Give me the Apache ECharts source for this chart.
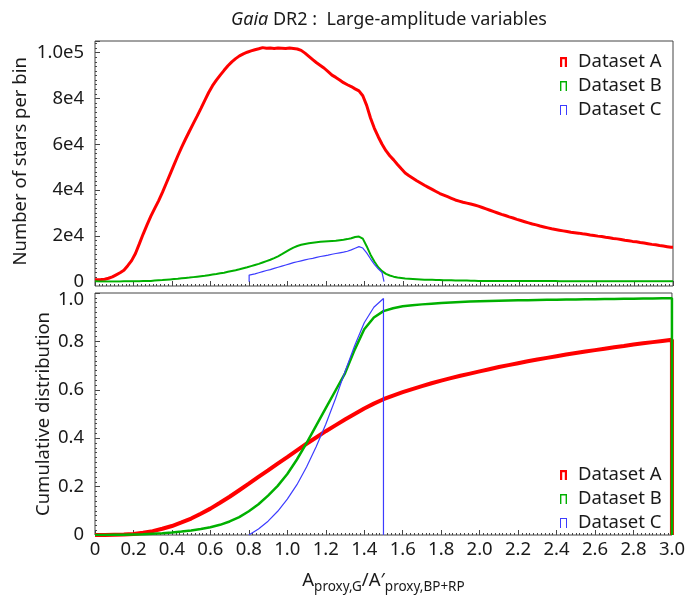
<!DOCTYPE html>
<html>
<head>
<meta charset="utf-8">
<script src="https://cdn.jsdelivr.net/npm/echarts@6/dist/echarts.min.js"></script>
<style>
html,body{margin:0;padding:0;background:#fff;}
#chart{width:688px;height:595px;}
</style>
</head>
<body>
<div id="chart"></div>
<script>
// ---------------- DATA ----------------
const seriesNames = ['Dataset A', 'Dataset B', 'Dataset C'];
const xTickLabels = ['0','0.2','0.4','0.6','0.8','1.0','1.2','1.4','1.6','1.8','2.0','2.2','2.4','2.6','2.8','3.0'];
const histYTickLabels = ['0','2e4','4e4','6e4','8e4','1.0e5'];

// Histograms: bin width 0.02
const histBinWidth = 0.02;
const histStartA = 0.0;
const histA = [
  900,1000,1100,1500,2100,3000,3900,5000,7000,9200,
  12300,16500,20800,24800,28600,32000,35300,39000,43000,47000,
  51000,55000,58800,62300,65700,69000,72300,75700,79200,82600,
  85600,88000,90200,92300,94300,96000,97400,98600,99500,100200,
  100800,101300,101700,102200,101900,102000,101800,102000,101900,101800,
  102000,101800,101600,101000,99800,98400,97000,95600,94400,93200,
  91700,90200,89200,88100,86900,86000,85200,84200,83300,81200,
  77000,71500,67000,63300,60000,57200,55000,53200,51200,49300,
  47500,46300,45200,44100,43100,42100,41200,40300,39400,38500,
  37800,37100,36400,35700,35200,34700,34300,33900,33500,33000,
  32400,31800,31200,30600,30000,29400,28900,28300,27800,27200,
  26700,26200,25700,25200,24800,24300,23900,23500,23100,22800,
  22500,22200,21900,21600,21400,21200,20900,20700,20400,20200,
  19900,19700,19400,19200,18900,18700,18400,18100,17900,17600,
  17400,17100,16900,16600,16300,16100,15800,15600,15300,15000
];
const histStartB = 0.0;
const histB = [
  200,100,100,100,100,100,100,150,150,200,
  200,250,300,300,350,500,600,700,850,1000,
  1150,1300,1500,1650,1800,2000,2200,2400,2600,2850,
  3100,3350,3650,3950,4300,4650,5000,5400,5850,6300,
  6800,7300,7800,8400,9000,9600,10300,11100,12000,13000,
  14000,14900,15600,16100,16500,16800,17000,17200,17400,17600,
  17700,17800,17900,18100,18300,18600,19000,19500,19700,18800,
  15500,11800,8800,6300,4600,3400,2700,2200,1800,1600,
  1400,1300,1200,1100,1000,900,850,800,750,700,
  650,600,600,550,550,500,500,450,400,300,
  300,300,300,300,300,300,300,300,300,300,
  300,300,300,300,300,300,300,300,300,300,
  250,250,250,250,250,250,250,250,250,250,
  250,250,250,250,250,250,250,250,250,250,
  250,250,250,250,250,250,250,250,250,250
];
const histStartC = 0.8;
const histC = [
  2900,3400,3900,4400,4900,5300,5800,6300,6800,7300,
  7800,8300,8700,9100,9500,9900,10200,10600,11000,11300,
  11600,12000,12300,12600,12900,13300,13900,14600,15300,14700,
  12600,10000,7600,5600,4000
];

// Cumulative distributions: sampled every 0.05
const cumStep = 0.05;
const cumStartA = 0.0;
const cumA = [
  0.000,0.000,0.001,0.002,0.004,0.009,0.016,0.026,0.037,0.052,
  0.068,0.088,0.109,0.133,0.158,0.185,0.212,0.240,0.267,0.295,
  0.322,0.350,0.377,0.403,0.429,0.453,0.477,0.500,0.523,0.543,
  0.561,0.576,0.590,0.603,0.615,0.627,0.638,0.648,0.658,0.667,
  0.676,0.685,0.694,0.702,0.710,0.718,0.725,0.732,0.739,0.746,
  0.752,0.758,0.764,0.770,0.776,0.781,0.787,0.792,0.797,0.802,
  0.807
];
const cumStartB = 0.0;
const cumB = [
  0.000,0.000,0.001,0.001,0.002,0.003,0.005,0.007,0.010,0.014,
  0.019,0.025,0.032,0.042,0.056,0.074,0.098,0.127,0.163,0.203,
  0.252,0.312,0.380,0.452,0.524,0.596,0.668,0.765,0.850,0.899,
  0.925,0.937,0.945,0.949,0.953,0.956,0.959,0.961,0.963,0.965,
  0.966,0.967,0.968,0.969,0.970,0.970,0.971,0.972,0.972,0.973,
  0.973,0.974,0.974,0.975,0.975,0.976,0.976,0.977,0.977,0.978,
  0.978
];
const cumStartC = 0.8;
const cumC = [0.000,0.025,0.057,0.098,0.148,0.208,0.281,0.365,0.458,0.562,0.675,0.782,0.877,0.941,0.977];

// ---------------- BUILD ----------------
const r3 = v => Math.round(v * 10000) / 10000;
// histogram outline: left edge, bin centres, right edge (optionally dropping to zero at both ends)
function histPoints(start, w, vals, closeBoth) {
  const d = [];
  if (closeBoth) d.push([r3(start), 0]);
  d.push([r3(start), vals[0]]);
  vals.forEach((v, i) => d.push([r3(start + (i + 0.5) * w), v]));
  const end = r3(start + vals.length * w);
  d.push([end, vals[vals.length - 1]]);
  if (closeBoth) d.push([end, 0]);
  return d;
}
function cumPoints(start, w, vals) {
  const d = vals.map((v, i) => [r3(start + i * w), v]);
  d.push([r3(start + (vals.length - 1) * w), 0]);
  return d;
}

const colors = ['#ff0000', '#00b000', '#3c3cff'];
const FONT = 'Noto Sans';
const TXT = '#1a1a1a';
const AX = '#444';
const FS = 18.5;

const icons = [
  'path://M0,10V0H7V10H4.8V2.2H2.2V10Z',
  'path://M0,10V0H7V10H5.6V1.4H1.4V10Z',
  'path://M0,10V0H7V10H6V1H1V10Z'
];
function legendData() {
  return seriesNames.map((n, i) => ({ name: n, icon: icons[i] }));
}

const xFmt = v => (Math.abs(v) < 1e-9 ? '0' : v.toFixed(1));
const yHistFmt = v => {
  const idx = Math.round(v / 20000);
  return histYTickLabels[idx] !== undefined ? histYTickLabels[idx] : '';
};
const yCumFmt = v => {
  if (Math.abs(v) < 1e-9) return '0';
  if (Math.abs(v - 1) < 1e-9) return '{t|1.0}';
  return v.toFixed(1);
};

const tickCommon = {
  axisLine: { show: false },
  axisTick: { show: true, inside: true, length: 5, lineStyle: { color: AX, width: 1 } },
  minorTick: { show: true, splitNumber: 10, length: 2, lineStyle: { color: AX, width: 1 } },
  splitLine: { show: false },
  minorSplitLine: { show: false }
};

const legendCommon = {
  orient: 'vertical', left: 555,
  itemWidth: 7, itemHeight: 10, itemGap: 0, selectedMode: false,
  textStyle: { fontFamily: FONT, fontSize: FS, color: TXT, lineHeight: 24, padding: [0, 0, 0, 6] }
};

const option = {
  backgroundColor: '#fff',
  animation: false,
  textStyle: { fontFamily: FONT },
  title: {
    text: '{i|Gaia} DR2 :  Large-amplitude variables',
    left: 384, top: 6, textAlign: 'center',
    textStyle: {
      fontFamily: FONT, fontSize: 18, fontWeight: 'normal', color: TXT,
      rich: { i: { fontFamily: FONT, fontSize: 18, fontStyle: 'italic', color: TXT } }
    }
  },
  legend: [
    Object.assign({ data: legendData(), top: 45 }, legendCommon),
    Object.assign({ data: legendData(), top: 458 }, legendCommon)
  ],
  grid: [
    { left: 95, top: 41, width: 578, height: 245, show: true, borderColor: AX, borderWidth: 1, backgroundColor: 'transparent' },
    { left: 95, top: 41, width: 578, height: 240.7 },
    { left: 95, top: 293, width: 578, height: 245.5, show: true, borderColor: AX, borderWidth: 1, backgroundColor: 'transparent' }
  ],
  xAxis: [
    Object.assign({ gridIndex: 0, type: 'value', min: 0, max: 3, interval: 0.2, axisLabel: { show: false } }, tickCommon),
    { gridIndex: 1, type: 'value', min: 0, max: 3, show: false },
    Object.assign({
      gridIndex: 2, type: 'value', min: 0, max: 3, interval: 0.2,
      axisLabel: { formatter: xFmt, fontFamily: FONT, fontSize: FS, color: TXT, margin: 5 },
      name: '{m|A}{s|proxy,G}{m|/A\u2032}{s|proxy,BP+RP}',
      nameLocation: 'middle', nameGap: 37,
      nameTextStyle: {
        fontFamily: FONT, color: TXT,
        rich: {
          m: { fontFamily: FONT, fontSize: FS, color: TXT, lineHeight: 22, verticalAlign: 'bottom', padding: [0, 0, 4, 0] },
          s: { fontFamily: FONT, fontSize: 13.5, color: TXT, lineHeight: 15, verticalAlign: 'bottom' }
        }
      }
    }, tickCommon)
  ],
  yAxis: [
    { gridIndex: 0, type: 'value', min: 0, max: 1, show: false },
    Object.assign({
      gridIndex: 1, type: 'value', min: 0, max: 105100, interval: 20000,
      axisLabel: { formatter: yHistFmt, fontFamily: FONT, fontSize: FS, color: TXT, margin: 11, showMaxLabel: false },
      name: 'Number of stars per bin', nameLocation: 'middle', nameRotate: 90, nameGap: 65, nameMoveOverlap: false,
      nameTextStyle: { fontFamily: FONT, fontSize: FS, color: TXT }
    }, tickCommon),
    Object.assign({
      gridIndex: 2, type: 'value', min: 0, max: 1, interval: 0.2,
      axisLabel: {
        formatter: yCumFmt, fontFamily: FONT, fontSize: FS, color: TXT, margin: 11,
        rich: { t: { fontFamily: FONT, fontSize: FS, color: TXT, padding: [14, 0, 0, 0] } }
      },
      name: 'Cumulative distribution', nameLocation: 'middle', nameRotate: 90, nameGap: 42, nameMoveOverlap: false,
      nameTextStyle: { fontFamily: FONT, fontSize: FS, color: TXT }
    }, tickCommon)
  ],
  series: [
    { name: seriesNames[0], type: 'line', xAxisIndex: 1, yAxisIndex: 1, symbol: 'none',
      data: histPoints(histStartA, histBinWidth, histA, false), color: colors[0], lineStyle: { width: 3, color: colors[0] } },
    { name: seriesNames[1], type: 'line', xAxisIndex: 1, yAxisIndex: 1, symbol: 'none',
      data: histPoints(histStartB, histBinWidth, histB, false), color: colors[1], lineStyle: { width: 2, color: colors[1] } },
    { name: seriesNames[2], type: 'line', xAxisIndex: 1, yAxisIndex: 1, symbol: 'none',
      data: histPoints(histStartC, histBinWidth, histC, true), color: colors[2], lineStyle: { width: 1.2, color: colors[2] } },
    { name: seriesNames[0], type: 'line', xAxisIndex: 2, yAxisIndex: 2, symbol: 'none',
      data: cumPoints(cumStartA, cumStep, cumA), color: colors[0], lineStyle: { width: 4, color: colors[0] } },
    { name: seriesNames[1], type: 'line', xAxisIndex: 2, yAxisIndex: 2, symbol: 'none',
      data: cumPoints(cumStartB, cumStep, cumB), color: colors[1], lineStyle: { width: 2.5, color: colors[1] } },
    { name: seriesNames[2], type: 'line', xAxisIndex: 2, yAxisIndex: 2, symbol: 'none',
      data: cumPoints(cumStartC, cumStep, cumC), color: colors[2], lineStyle: { width: 1.2, color: colors[2] } }
  ]
};

const chart = echarts.init(document.getElementById('chart'), null, { renderer: 'canvas' });
chart.setOption(option);
</script>
</body>
</html>
